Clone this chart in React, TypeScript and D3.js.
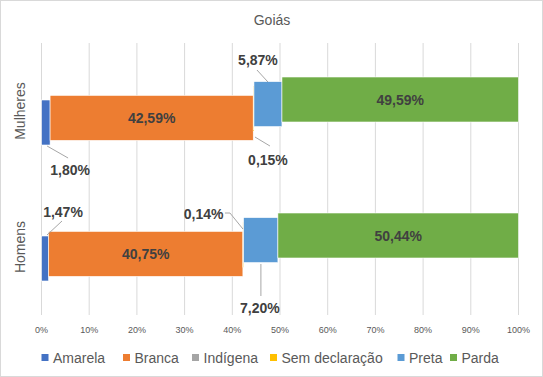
import React from 'react';
import * as d3 from 'd3';

const title = 'Goiás';
const categories = ['Mulheres', 'Homens'];
const seriesNames = ['Amarela', 'Branca', 'Indígena', 'Sem declaração', 'Preta', 'Parda'];
const seriesColors = ['#4472C4', '#ED7D31', '#A5A5A5', '#FFC000', '#5B9BD5', '#70AD47'];
const mulheresValues = [1.80, 42.59, 0.0, 0.15, 5.87, 49.59];
const homensValues = [1.47, 40.75, 0.0, 0.14, 7.20, 50.44];
const xTicks = [0, 10, 20, 30, 40, 50, 60, 70, 80, 90, 100];

// label placement (relative to segment end x and band centre y)
type Lbl = { inside?: boolean; t?: [number, number]; line?: [number, number][] };
const labelPlacement: Record<string, Lbl[]> = {
  Mulheres: [
    { t: [20, 59], line: [[-3, 35], [18, 47]] },
    { inside: true },
    {},
    { t: [14, 49], line: [[1, 26], [16, 35]] },
    { t: [-24, -51], line: [[-25, -41], [-14, -29]] },
    { inside: true },
  ],
  Homens: [
    { t: [14.5, -35], line: [[-1.5, -12], [13.5, -26]] },
    { inside: true },
    {},
    { t: [-40, -33], line: [[-18.6, -34], [-13.6, -34], [-0.6, -18]] },
    { t: [-18, 61], line: [[-17, 17], [-17, 49]] },
    { inside: true },
  ],
};

const fmt = (v: number) => v.toFixed(2).replace('.', ',') + '%';

export default function App() {
  const W = 543, H = 377;
  const x = d3.scaleLinear().domain([0, 100]).range([41.5, 518.5]);
  const y = d3.scaleBand<string>().domain(categories).range([43, 315]).padding(0);
  const valuesByCat: Record<string, number[]> = { Mulheres: mulheresValues, Homens: homensValues };
  const barH = 45;
  const step = 4.6;
  const nS = seriesNames.length;
  const font = '"Liberation Sans", Arial, sans-serif';

  const legendX = [41.5, 123, 192, 270, 397.5, 450];

  return (
    <svg width={W} height={H} style={{ position: 'absolute', left: 0, top: 0 }} fontFamily={font}>
      <rect x={0.5} y={0.5} width={W - 1} height={H - 1} fill="#fff" stroke="#d9d9d9" />
      <text x={272} y={20} textAnchor="middle" dominantBaseline="central" fontSize={14} fill="#595959">{title}</text>
      {xTicks.map(t => (
        <g key={t}>
          <line x1={x(t)} x2={x(t)} y1={43} y2={315} stroke="#d9d9d9" strokeWidth={1} />
          <text x={x(t)} y={330} textAnchor="middle" dominantBaseline="central" fontSize={9} fill="#595959">{t}%</text>
        </g>
      ))}
      {categories.map(cat => {
        const yc = (y(cat) as number) + y.bandwidth() / 2;
        const vals = valuesByCat[cat];
        const cum = d3.cumsum(vals);
        return (
          <g key={cat}>
            <text transform={`translate(20,${yc}) rotate(-90)`} textAnchor="middle" dominantBaseline="central" fontSize={14} fill="#595959">{cat}</text>
            {vals.map((v, i) => {
              const x0 = x(cum[i] - v), x1 = x(cum[i]);
              const top = yc - (barH + step * (nS - 1)) / 2 + (nS - 1 - i) * step;
              if (v <= 0) return null;
              return (
                <rect key={i} x={x0} y={top} width={Math.max(0, x1 - x0)} height={barH} fill={seriesColors[i]} stroke="#fff" strokeWidth={0.6} />
              );
            })}
            {vals.map((v, i) => {
              const lp = labelPlacement[cat][i];
              if (v <= 0 || (!lp.inside && !lp.t)) return null;
              const x0 = x(cum[i] - v), x1 = x(cum[i]);
              const top = yc - (barH + step * (nS - 1)) / 2 + (nS - 1 - i) * step;
              if (lp.inside) {
                return (
                  <text key={'l' + i} x={(x0 + x1) / 2} y={top + barH / 2} textAnchor="middle" dominantBaseline="central" fontSize={14} fontWeight="bold" fill="#404040">{fmt(v)}</text>
                );
              }
              const pts = (lp.line || []).map(p => [x1 + p[0], yc + p[1]] as [number, number]);
              return (
                <g key={'l' + i}>
                  {pts.length > 1 && <path d={d3.line()(pts) || ''} fill="none" stroke="#a6a6a6" strokeWidth={1} />}
                  <text x={x1 + lp.t![0]} y={yc + lp.t![1]} textAnchor="middle" dominantBaseline="central" fontSize={14} fontWeight="bold" fill="#404040">{fmt(v)}</text>
                </g>
              );
            })}
          </g>
        );
      })}
      {seriesNames.map((s, i) => (
        <g key={s}>
          <rect x={legendX[i]} y={354} width={7} height={7} fill={seriesColors[i]} />
          <text x={legendX[i] + 11.5} y={358} dominantBaseline="central" fontSize={14} fill="#595959">{s}</text>
        </g>
      ))}
    </svg>
  );
}
